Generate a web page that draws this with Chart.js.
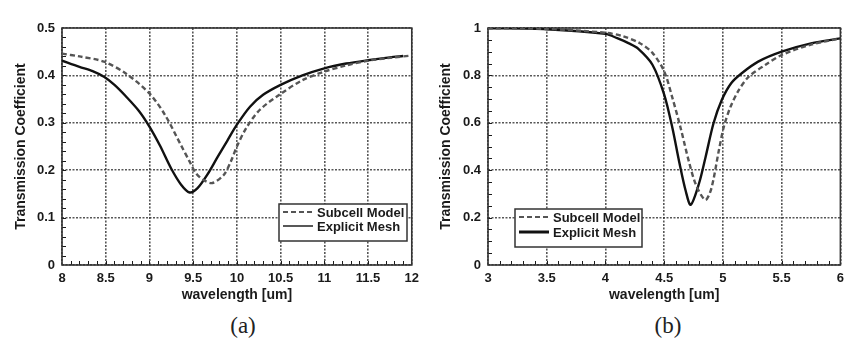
<!DOCTYPE html>
<html>
<head>
<meta charset="utf-8">
<script src="https://cdn.jsdelivr.net/npm/chart.js@4.4.0/dist/chart.umd.min.js"></script>
<style>
  body { margin: 0; background: #fff; width: 850px; height: 343px; position: relative; overflow: hidden; }
  .pane { position: absolute; top: 0; width: 425px; height: 310px; }
  .caption { position: absolute; top: 314px; width: 100px; text-align: center; line-height: 1;
             font-family: "Liberation Serif", "Times New Roman", serif; font-size: 23px; color: #222; }
</style>
</head>
<body>
<div class="pane" style="left:0"><canvas id="chartA" width="425" height="310"></canvas></div>
<div class="pane" style="left:425px"><canvas id="chartB" width="425" height="310"></canvas></div>
<div class="caption" style="left:193px">(a)</div>
<div class="caption" style="left:618px">(b)</div>

<script>
// (a) long-wave band, 8-12 um
const waveA_mesh = [8.0, 8.2, 8.35, 8.48, 8.6, 8.73, 8.88, 9.0, 9.12, 9.25, 9.36, 9.46, 9.55, 9.66, 9.78, 9.89, 10.0, 10.15, 10.3, 10.5, 10.75, 11.0, 11.25, 11.5, 11.75, 11.9];
const transA_mesh = [0.431, 0.418, 0.409, 0.397, 0.380, 0.356, 0.325, 0.292, 0.252, 0.203, 0.170, 0.153, 0.162, 0.190, 0.228, 0.262, 0.296, 0.334, 0.359, 0.380, 0.400, 0.415, 0.425, 0.432, 0.438, 0.441];
const waveA_subcell = [8.0, 8.2, 8.48, 8.73, 9.0, 9.18, 9.36, 9.46, 9.53, 9.62, 9.72, 9.85, 9.93, 10.0, 10.11, 10.26, 10.5, 10.75, 11.0, 11.25, 11.5, 11.75, 12.0];
const transA_subcell = [0.446, 0.440, 0.429, 0.404, 0.362, 0.316, 0.253, 0.218, 0.194, 0.179, 0.173, 0.190, 0.218, 0.250, 0.290, 0.327, 0.361, 0.390, 0.408, 0.421, 0.431, 0.437, 0.442];

// (b) mid-wave band, 3-6 um
const waveB_mesh = [3.0, 3.5, 4.0, 4.1, 4.2, 4.28, 4.4, 4.5, 4.57, 4.627, 4.684, 4.726, 4.797, 4.853, 4.92, 4.99, 5.07, 5.16, 5.3, 5.5, 5.75, 6.0];
const transB_mesh = [0.999, 0.995, 0.975, 0.957, 0.935, 0.912, 0.845, 0.719, 0.578, 0.437, 0.311, 0.254, 0.345, 0.457, 0.598, 0.696, 0.767, 0.809, 0.858, 0.900, 0.935, 0.956];
const waveB_subcell = [3.0, 3.5, 4.0, 4.15, 4.29, 4.4, 4.5, 4.57, 4.64, 4.71, 4.77, 4.85, 4.9, 4.966, 5.008, 5.065, 5.135, 5.22, 5.36, 5.5, 5.75, 6.0];
const transB_subcell = [0.999, 0.996, 0.980, 0.965, 0.937, 0.895, 0.817, 0.705, 0.578, 0.437, 0.339, 0.275, 0.320, 0.485, 0.584, 0.668, 0.738, 0.795, 0.844, 0.886, 0.930, 0.956];

const seriesNames = ['Subcell Model', 'Explicit Mesh'];

const toPoints = (xs, ys) => xs.map((x, i) => ({ x: x, y: ys[i] }));

const INK = '#1a1a1a';
const GRID = 'rgba(45,45,45,0.8)';
const sans = '"Liberation Sans", Arial, sans-serif';

// frame round the plot + small inward ticks on bottom and left axes
const framePlugin = {
  id: 'frame',
  beforeDatasetsDraw(chart, args, opts) {
    const { ctx, chartArea: a, scales } = chart;
    ctx.save();
    ctx.strokeStyle = INK;
    ctx.lineWidth = 1;
    const xs = scales.x, ys = scales.y;
    let n = Math.round((xs.max - xs.min) / opts.xMinor);
    ctx.beginPath();
    for (let i = 1; i < n; i++) {
      const px = Math.round(xs.getPixelForValue(xs.min + i * opts.xMinor)) + 0.5;
      ctx.moveTo(px, a.bottom);
      ctx.lineTo(px, a.bottom - 4);
    }
    n = Math.round((ys.max - ys.min) / opts.yMinor);
    for (let i = 1; i < n; i++) {
      const py = Math.round(ys.getPixelForValue(ys.min + i * opts.yMinor)) + 0.5;
      ctx.moveTo(a.left, py);
      ctx.lineTo(a.left + 4, py);
    }
    ctx.stroke();
    ctx.lineWidth = 1.6;
    ctx.strokeStyle = '#333';
    ctx.strokeRect(a.left, a.top, a.right - a.left, a.bottom - a.top);
    ctx.restore();
  }
};

// boxed legend drawn inside the plot
const boxLegend = {
  id: 'boxLegend',
  afterDraw(chart, args, opts) {
    const { ctx } = chart;
    const b = opts.box;
    ctx.save();
    ctx.fillStyle = '#fff';
    ctx.fillRect(b.x, b.y, b.w, b.h);
    ctx.strokeStyle = '#333';
    ctx.lineWidth = 1.5;
    ctx.strokeRect(b.x, b.y, b.w, b.h);
    ctx.font = 'bold 13px ' + sans;
    ctx.textBaseline = 'middle';
    chart.data.datasets.forEach((ds, i) => {
      const y = b.y + opts.rowY[i];
      ctx.beginPath();
      ctx.strokeStyle = ds.borderColor;
      ctx.lineWidth = opts.sampleWidth[i];
      ctx.setLineDash(ds.borderDash || []);
      ctx.moveTo(b.x + 4, y);
      ctx.lineTo(b.x + opts.sampleLen, y);
      ctx.stroke();
      ctx.setLineDash([]);
      ctx.fillStyle = INK;
      ctx.fillText(ds.label, b.x + opts.sampleLen + 4, y + 1);
    });
    ctx.restore();
  }
};

function makeChart(id, subcell, mesh, xr, yr, extra) {
  return new Chart(document.getElementById(id), {
    type: 'line',
    data: {
      datasets: [{
        label: seriesNames[0],
        data: subcell,
        borderColor: '#555',
        borderWidth: 2.4,
        borderDash: [5, 3],
        pointRadius: 0,
        tension: 0.3
      }, {
        label: seriesNames[1],
        data: mesh,
        borderColor: '#111',
        borderWidth: 2.4,
        pointRadius: 0,
        tension: 0.3
      }]
    },
    options: {
      responsive: false,
      animation: false,
      layout: { padding: { top: 28, right: extra.padRight, left: 0, bottom: 0 } },
      plugins: {
        legend: { display: false },
        tooltip: { enabled: false },
        frame: { xMinor: extra.xMinor, yMinor: extra.yMinor },
        boxLegend: extra.legend
      },
      scales: {
        x: {
          type: 'linear',
          min: xr.min, max: xr.max,
          afterFit: s => { s.height = 45; },
          afterBuildTicks: s => { s.ticks = xr.ticks.map(v => ({ value: v })); },
          grid: { color: GRID, lineWidth: 1.6, drawTicks: false },
          border: { display: false, dash: [2, 1.5] },
          ticks: {
            padding: 6, color: INK, maxRotation: 0,
            font: { family: sans, size: 13, weight: 'bold' },
            callback: v => String(v)
          },
          title: {
            display: true, text: 'wavelength [um]', color: INK,
            font: { family: sans, size: 14, weight: 'bold' },
            padding: { top: 0, bottom: 6 }
          }
        },
        y: {
          min: yr.min, max: yr.max,
          afterFit: s => { s.width = extra.yWidth; },
          afterBuildTicks: s => { s.ticks = yr.ticks.map(v => ({ value: v })); },
          grid: { color: GRID, lineWidth: 1.6, drawTicks: false },
          border: { display: false, dash: [2, 1.5] },
          ticks: {
            padding: 7, color: INK,
            font: { family: sans, size: 13, weight: 'bold' },
            callback: v => String(v)
          },
          title: {
            display: true, text: 'Transmission Coefficient', color: INK,
            font: { family: sans, size: 14, weight: 'bold' },
            padding: { top: 13, bottom: 0 }
          }
        }
      }
    },
    plugins: [framePlugin, boxLegend]
  });
}

makeChart('chartA',
  toPoints(waveA_subcell, transA_subcell),
  toPoints(waveA_mesh, transA_mesh),
  { min: 8, max: 12, ticks: [8, 8.5, 9, 9.5, 10, 10.5, 11, 11.5, 12] },
  { min: 0, max: 0.5, ticks: [0, 0.1, 0.2, 0.3, 0.4, 0.5] },
  {
    padRight: 7, yWidth: 62, xMinor: 0.1, yMinor: 0.02,
    legend: { box: { x: 279, y: 204, w: 128, h: 37 }, rowY: [8, 22], sampleLen: 34, sampleWidth: [2, 1.4] }
  });

makeChart('chartB',
  toPoints(waveB_subcell, transB_subcell),
  toPoints(waveB_mesh, transB_mesh),
  { min: 3, max: 6, ticks: [3, 3.5, 4, 4.5, 5, 5.5, 6] },
  { min: 0, max: 1, ticks: [0, 0.2, 0.4, 0.6, 0.8, 1] },
  {
    padRight: 8, yWidth: 63, xMinor: 0.1, yMinor: 0.05,
    legend: { box: { x: 90, y: 209, w: 127, h: 38 }, rowY: [8, 23], sampleLen: 34, sampleWidth: [2, 3] }
  });
</script>
</body>
</html>
